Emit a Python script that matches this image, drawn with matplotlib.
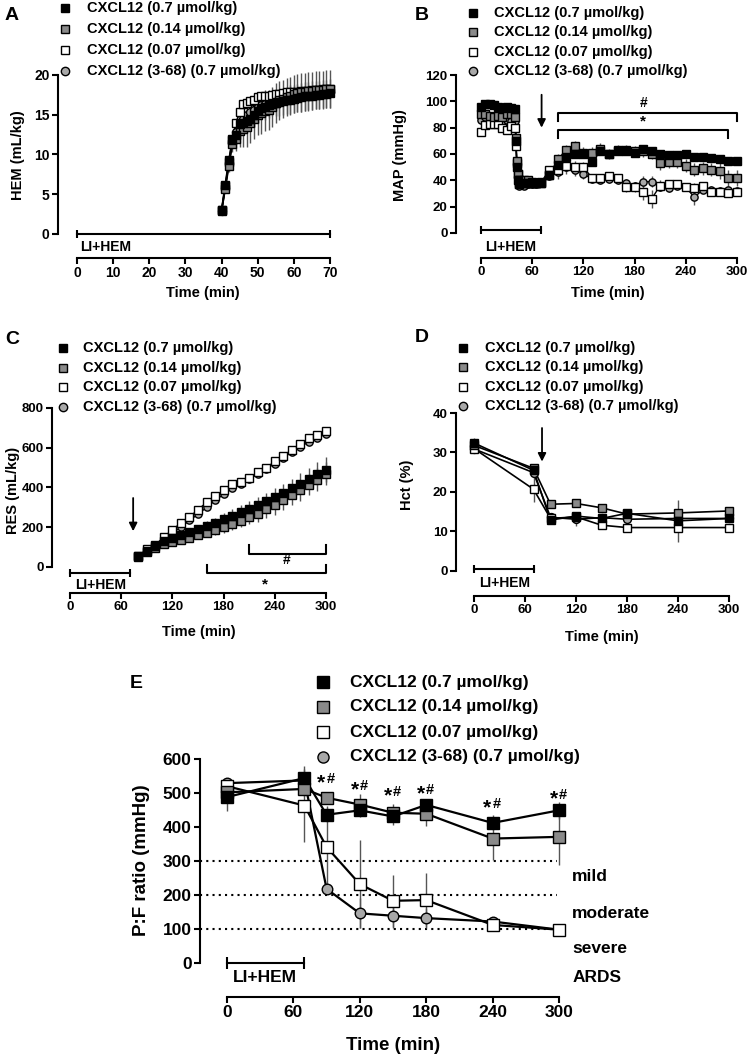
import matplotlib
matplotlib.use('Agg')
import matplotlib.pyplot as plt
from matplotlib.lines import Line2D

plt.rcParams['font.family'] = ['Liberation Sans', 'DejaVu Sans']
plt.rcParams['font.weight'] = 'bold'
plt.rcParams['axes.labelweight'] = 'bold'

# ---------------- data ----------------
labels = ['CXCL12 (0.7 µmol/kg)', 'CXCL12 (0.14 µmol/kg)',
          'CXCL12 (0.07 µmol/kg)', 'CXCL12 (3-68) (0.7 µmol/kg)']

# Panel A: HEM (mL/kg)
t_A = [40, 41, 42, 43, 44, 45, 46, 47, 48, 49, 50, 51, 52, 53, 54, 55,
       56, 57, 58, 59, 60, 61, 62, 63, 64, 65, 66, 67, 68, 69, 70]
black_A = [3.0, 6.2, 9.3, 11.8, 12.5, 13.8, 14.0, 14.2, 14.5, 15.0, 15.5, 15.8, 16.0, 16.2, 16.4, 16.5,
           16.6, 16.7, 16.8, 16.9, 17.0, 17.1, 17.2, 17.3, 17.3, 17.4, 17.5, 17.5, 17.6, 17.6, 17.7]
grey_A = [2.9, 5.6, 8.5, 11.3, 12.0, 13.0, 13.2, 13.5, 14.0, 14.5, 15.0, 15.2, 15.5, 15.6, 16.0, 16.5,
          16.8, 17.0, 17.2, 17.4, 17.6, 17.7, 17.8, 17.9, 18.0, 18.0, 18.1, 18.1, 18.1, 18.2, 18.2]
white_A = [3.0, 6.0, 9.0, 12.0, 14.0, 15.3, 16.3, 16.5, 16.7, 16.9, 17.2, 17.3, 17.3, 17.4, 17.5, 17.6,
           17.6, 17.7, 17.8, 17.8, 17.9, 17.9, 18.0, 18.0, 18.0, 18.1, 18.1, 18.1, 18.2, 18.2, 18.2]
circle_A = [2.9, 5.8, 8.8, 11.5, 12.8, 14.0, 14.5, 15.0, 15.3, 15.6, 16.0, 16.2, 16.4, 16.6, 16.8, 17.0,
            17.1, 17.2, 17.3, 17.4, 17.5, 17.6, 17.6, 17.7, 17.7, 17.8, 17.8, 17.8, 17.9, 17.9, 17.9]
err_black_A = [0.3, 0.4, 0.5, 0.6, 0.8, 1.0, 1.2, 1.3, 1.4, 1.5, 1.5, 1.5, 1.6, 1.6, 1.6, 1.7,
               1.7, 1.7, 1.7, 1.8, 1.8, 1.8, 1.8, 1.8, 1.8, 1.8, 1.8, 1.8, 1.8, 1.8, 1.8]
err_grey_A = [0.3, 0.5, 0.7, 1.0, 1.5, 2.0, 2.3, 2.5, 2.6, 2.6, 2.6, 2.6, 2.6, 2.5, 2.5, 2.5,
              2.4, 2.4, 2.4, 2.4, 2.4, 2.4, 2.4, 2.4, 2.4, 2.4, 2.4, 2.4, 2.4, 2.4, 2.4]

# Panel B: MAP (mmHg)
t_B = [0, 5, 10, 15, 20, 25, 30, 35, 40, 41, 42, 43, 44, 45, 50, 55, 60, 65, 70,
       80, 90, 100, 110, 120, 130, 140, 150, 160, 170, 180, 190, 200, 210, 220, 230,
       240, 250, 260, 270, 280, 290, 300]
black_B = [96, 98, 98, 97, 96, 95, 96, 95, 94, 70, 50, 40, 37, 37, 38, 38, 38, 38, 39,
           44, 52, 58, 60, 60, 54, 62, 60, 62, 62, 61, 64, 62, 60, 59, 59, 60, 58, 58, 57, 56, 55, 55]
grey_B = [90, 90, 89, 88, 89, 88, 90, 90, 88, 72, 55, 45, 40, 40, 40, 40, 39, 38, 38,
          44, 56, 63, 66, 61, 61, 64, 60, 63, 63, 62, 62, 60, 53, 54, 54, 51, 48, 49, 48, 47, 42, 42]
white_B = [77, 82, 83, 83, 83, 80, 78, 81, 80, 66, 53, 45, 40, 39, 39, 38, 38, 38, 38,
           48, 48, 51, 50, 50, 42, 42, 43, 42, 35, 35, 31, 26, 36, 37, 37, 35, 34, 36, 31, 31, 30, 31]
circle_B = [86, 88, 87, 86, 87, 85, 86, 85, 85, 68, 50, 40, 37, 36, 36, 37, 37, 37, 38,
            43, 46, 50, 48, 45, 41, 40, 41, 40, 38, 36, 39, 39, 35, 34, 36, 35, 27, 33, 33, 32, 33, 32]
err_grey_B = [2, 2, 2, 2, 2, 2, 2, 2, 2, 2, 2, 2, 2, 2, 2, 2, 2, 2, 2,
              3, 4, 4, 4, 4, 4, 4, 4, 4, 4, 4, 4, 4, 5, 5, 5, 5, 5, 5, 5, 6, 6, 6]
err_white_B = [2, 2, 2, 2, 2, 2, 2, 2, 2, 2, 2, 2, 2, 2, 2, 2, 2, 2, 2,
               3, 5, 4, 5, 4, 3, 3, 3, 3, 4, 4, 6, 7, 4, 3, 3, 3, 4, 3, 3, 3, 3, 3]
err_circle_B = [2, 2, 2, 2, 2, 2, 2, 2, 2, 2, 2, 2, 2, 2, 2, 2, 2, 2, 2,
                3, 5, 5, 5, 4, 3, 3, 3, 3, 3, 3, 4, 4, 3, 3, 3, 3, 6, 3, 3, 3, 3, 3]

# Panel C: RES (mL/kg)
t_C = [80, 90, 100, 110, 120, 130, 140, 150, 160, 170, 180, 190, 200, 210, 220, 230,
       240, 250, 260, 270, 280, 290, 300]
black_C = [55, 80, 105, 130, 145, 160, 175, 190, 205, 220, 240, 258, 275, 292, 310, 330,
           350, 372, 395, 420, 445, 470, 490]
grey_C = [50, 75, 95, 115, 125, 135, 145, 160, 172, 185, 200, 215, 232, 250, 268, 290,
          310, 335, 360, 385, 415, 440, 470]
white_C = [54, 90, 112, 150, 188, 221, 252, 288, 325, 356, 386, 419, 426, 450, 476, 498,
           532, 560, 590, 620, 649, 666, 683]
circle_C = [55, 88, 110, 140, 170, 200, 235, 265, 300, 335, 365, 395, 420, 445, 470, 495,
            520, 550, 578, 605, 630, 650, 670]
err_black_C = [5, 8, 10, 12, 15, 18, 20, 22, 25, 28, 30, 32, 35, 38, 40, 42,
               45, 48, 50, 52, 55, 58, 62]
err_grey_C = [4, 6, 8, 10, 12, 15, 18, 20, 22, 25, 28, 30, 33, 36, 40, 43,
              46, 48, 50, 53, 55, 58, 60]
err_white_C = [4, 5, 6, 7, 8, 9, 10, 10, 11, 12, 12, 13, 14, 14, 15, 15,
               16, 16, 17, 17, 18, 18, 19]

# Panel D: Hct (%)
t_D = [0, 70, 90, 120, 150, 180, 240, 300]
black_D = [32.4, 25.5, 12.9, 13.9, 13.3, 14.6, 12.7, 13.3]
grey_D = [31.8, 26.0, 16.9, 17.1, 16.0, 14.4, 14.7, 15.2]
white_D = [31.0, 20.7, 13.3, 13.7, 11.6, 11.0, 11.0, 11.0]
circle_D = [30.9, 24.9, 13.6, 13.1, 13.5, 13.1, 13.3, 13.3]
err_black_D = [1.2, 1.0, 0.8, 1.0, 0.8, 0.6, 5.3, 0.8]
err_white_D = [0.8, 3.2, 0.8, 0.8, 0.8, 0.6, 0.6, 0.6]
err_circle_D = [0.8, 1.0, 0.8, 1.8, 0.8, 0.8, 0.8, 0.8]

# Panel E: P:F ratio (mmHg)
t_E = [0, 70, 90, 120, 150, 180, 240, 300]
black_E = [488, 544, 436, 449, 431, 465, 412, 449]
grey_E = [502, 512, 486, 466, 442, 439, 366, 371]
white_E = [520, 463, 341, 232, 183, 185, 112, 98]
circle_E = [529, 537, 218, 146, 139, 132, 122, 98]
err_black_E = [40, 36, 20, 20, 25, 15, 22, 25]
err_grey_E = [15, 20, 15, 30, 25, 37, 64, 83]
err_white_E = [10, 107, 120, 130, 77, 80, 10, 5]
err_circle_E = [10, 10, 10, 44, 35, 30, 8, 5]
sig_t_E = [90, 120, 150, 180, 240, 300]
sig_y_E = [530, 510, 492, 496, 457, 482]
ards_levels = [300, 200, 100]
ards_labels = ['mild', 'moderate', 'severe', 'ARDS']
ards_label_y = [253, 147, 44, -44]

# ---------------- styles ----------------
face = ['black', '#8a8a8a', 'white', '#a8a8a8']
mark = ['s', 's', 's', 'o']
W, H = 749, 1058
fig = plt.figure(figsize=(W / 100, H / 100), dpi=100)


def add_ax(x0, x1, y0, y1):
    return fig.add_axes([x0 / W, 1 - y1 / H, (x1 - x0) / W, (y1 - y0) / H])


def style(ax, xlim, ylim, xticks, yticks, fs):
    ax.set_xlim(*xlim)
    ax.set_ylim(*ylim)
    for s in ['top', 'right']:
        ax.spines[s].set_visible(False)
    ax.spines['left'].set_bounds(yticks[0], yticks[-1])
    ax.spines['bottom'].set_bounds(xticks[0], xticks[-1])
    for s in ['left', 'bottom']:
        ax.spines[s].set_linewidth(1.5)
    ax.set_xticks(xticks)
    ax.set_yticks(yticks)
    ax.tick_params(direction='out', length=4, width=1.5, labelsize=fs, pad=2)
    for lab in ax.get_xticklabels() + ax.get_yticklabels():
        lab.set_fontweight('bold')
    ax.patch.set_alpha(0)


def series(ax, t, ys, errs, ms, lw):
    for i in [3, 2, 1, 0]:
        if errs[i] is not None:
            ax.errorbar(t, ys[i], yerr=errs[i], fmt='none', ecolor='#555555',
                        elinewidth=1.0, capsize=0, zorder=2, clip_on=False)
        ax.plot(t, ys[i], color='black', lw=lw, zorder=3, clip_on=False)
        ax.plot(t, ys[i], ls='none', marker=mark[i], ms=ms if mark[i] == 's' else ms * 0.95,
                mfc=face[i], mec='black', mew=1.0, zorder=4 + (3 - i), clip_on=False)


def legend(xm, xt, ys, fs, ms):
    for i, y in enumerate(ys):
        fig.add_artist(Line2D([xm / W], [1 - y / H], marker=mark[i], ms=ms, mfc=face[i],
                              mec='black', mew=1.0, ls='none', transform=fig.transFigure))
        fig.text(xt / W, 1 - y / H, labels[i], fontsize=fs, fontweight='bold',
                 va='center', ha='left')


def lihem(ax, y, tx, ty, fs, tick=6):
    ax.plot([0, 70], [y, y], color='black', lw=1.5, clip_on=False, zorder=5)
    ax.plot([0, 70], [y, y], ls='none', marker='|', ms=tick, mew=1.5, color='black',
            clip_on=False, zorder=5)
    ax.text(tx, ty, 'LI+HEM', fontsize=fs, fontweight='bold', ha='left', va='center')


def arrow(ax, x, y0, y1, lw=1.3, ms=12):
    ax.annotate('', xy=(x, y1), xytext=(x, y0),
                arrowprops=dict(arrowstyle='-|>', color='black', lw=lw, mutation_scale=ms,
                                shrinkA=0, shrinkB=0))


def bracket(ax, x0, x1, y, yend):
    ax.plot([x0, x0, x1, x1], [yend, y, y, yend], color='black', lw=1.5, clip_on=False)


def flabel(x, y, s, fs, rot=0):
    fig.text(x / W, 1 - y / H, s, fontsize=fs, fontweight='bold', ha='center',
             va='center', rotation=rot)


# ---------------- Panel A ----------------
axA = add_ax(58, 330, 75, 258)
series(axA, t_A, [black_A, grey_A, white_A, circle_A],
       [err_black_A, err_grey_A, None, None], 6, 1.2)
style(axA, (-5.26, 70), (-3.02, 20), [0, 10, 20, 30, 40, 50, 60, 70], [0, 5, 10, 15, 20], 10)
lihem(axA, 0, 1, -1.6, 10)
legend(65, 87, [8, 29, 50, 71], 10.5, 6)
flabel(12, 15, 'A', 14)
flabel(18, 155, 'HEM (mL/kg)', 10.5, 90)
flabel(203, 293, 'Time (min)', 10.5)

# ---------------- Panel B ----------------
axB = add_ax(456, 737, 75, 258)
series(axB, t_B, [black_B, grey_B, white_B, circle_B],
       [None, err_grey_B, err_white_B, err_circle_B], 5.5, 1.0)
style(axB, (-29.3, 300), (-19, 120), [0, 60, 120, 180, 240, 300], [0, 20, 40, 60, 80, 100, 120], 9.5)
lihem(axB, 2.3, 4.7, -10.6, 10)
arrow(axB, 71, 105, 80)
bracket(axB, 90, 300, 91, 85)
bracket(axB, 90, 290, 78, 72)
axB.text(190, 99, '#', fontsize=10, fontweight='bold', ha='center', va='center')
axB.text(190, 85, '*', fontsize=11, fontweight='bold', ha='center', va='center')
legend(473, 494, [13, 32, 52, 71], 10.5, 6)
flabel(422, 15, 'B', 14)
flabel(400, 155, 'MAP (mmHg)', 10.5, 90)
flabel(608, 293, 'Time (min)', 10.5)

# ---------------- Panel C ----------------
axC = add_ax(52, 326, 408, 593)
series(axC, t_C, [black_C, grey_C, white_C, circle_C],
       [err_black_C, err_grey_C, err_white_C, None], 5.5, 1.0)
style(axC, (-21.1, 300), (-131, 800), [0, 60, 120, 180, 240, 300], [0, 200, 400, 600, 800], 9.5)
lihem(axC, -30, 6, -90, 10)
arrow(axC, 74, 347, 180)
bracket(axC, 210, 300, 65, 110)
bracket(axC, 160, 300, -30, 10)
axC.text(254, 33, '#', fontsize=10, fontweight='bold', ha='center', va='center')
axC.text(228, -88, '*', fontsize=11, fontweight='bold', ha='center', va='center')
legend(63, 83, [348, 368, 387, 407], 10.5, 6)
flabel(12, 340, 'C', 14)
flabel(13, 490, 'RES (mL/kg)', 10.5, 90)
flabel(199, 632, 'Time (min)', 10.5)

# ---------------- Panel D ----------------
axD = add_ax(456, 729, 413, 596)
series(axD, t_D, [black_D, grey_D, white_D, circle_D],
       [err_black_D, None, err_white_D, err_circle_D], 6, 1.2)
style(axD, (-21.2, 300), (-6.33, 40), [0, 60, 120, 180, 240, 300], [0, 10, 20, 30, 40], 9.5)
lihem(axD, 0.4, 6, -3.0, 10)
arrow(axD, 80, 36.2, 27.7)
legend(463, 485, [348, 367, 387, 406], 10.5, 6)
flabel(422, 337, 'D', 14)
flabel(407, 485, 'Hct (%)', 10.5, 90)
flabel(602, 637, 'Time (min)', 10.5)

# ---------------- Panel E ----------------
axE = add_ax(200, 559, 759, 997)
for lv in ards_levels:
    axE.plot([-24.4, 298], [lv, lv], color='black', lw=1.5, ls=(0, (1, 2)), zorder=1)
series(axE, t_E, [black_E, grey_E, white_E, circle_E],
       [err_black_E, err_grey_E, err_white_E, err_circle_E], 8, 1.6)
style(axE, (-24.4, 300), (-100, 600), [0, 60, 120, 180, 240, 300],
      [0, 100, 200, 300, 400, 500, 600], 12.5)
lihem(axE, 0, 5.4, -44, 12.5, tick=8)
arrow(axE, 70.5, 812, 632, lw=1.5, ms=16)
for x, y in zip(sig_t_E, sig_y_E):
    axE.text(x - 1, y, '*', fontsize=15, fontweight='bold', ha='right', va='center')
    axE.text(x, y + 12, '#', fontsize=10.5, fontweight='bold', ha='left', va='center')
for lab, y in zip(ards_labels, ards_label_y):
    axE.text(312, y, lab, fontsize=12.5, fontweight='bold', ha='left', va='center', clip_on=False)
legend(323, 350, [682, 707, 732, 757], 12.5, 8)
flabel(136, 683, 'E', 14)
flabel(142, 860, 'P:F ratio (mmHg)', 13.5, 90)
flabel(393, 1045, 'Time (min)', 13.5)

fig.savefig('out.png', dpi=100)
